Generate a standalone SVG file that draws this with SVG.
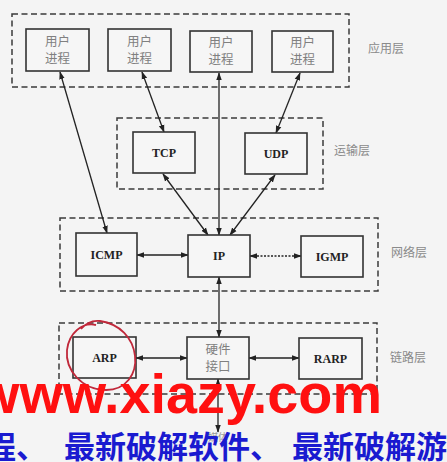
<svg xmlns="http://www.w3.org/2000/svg" width="447" height="462" viewBox="0 0 447 462">
<defs>
<marker id="ah" viewBox="0 0 10 10" refX="9" refY="5" markerWidth="8" markerHeight="8" orient="auto-start-reverse" markerUnits="userSpaceOnUse">
<path d="M0,1.5 L10,5 L0,8.5 Z" fill="#222"/>
</marker>
<style>
.layer{fill:none;stroke:#3a3a3a;stroke-width:1.5;stroke-dasharray:6 3.5}
.box{fill:#f6f6f6;stroke:#333;stroke-width:1.6}
.cj{font-family:"Noto Sans CJK SC","Noto Sans CJK TC",sans-serif;font-size:12.5px;fill:#808080;text-anchor:middle}
.en{font-family:"Liberation Serif",serif;font-size:12px;font-weight:bold;fill:#222;text-anchor:middle}
.lab{font-family:"Noto Sans CJK SC",sans-serif;font-size:12px;fill:#8a8a8a}
.c{stroke:#222;stroke-width:1.3;fill:none;marker-start:url(#ah);marker-end:url(#ah)}
</style>
</defs>
<rect width="447" height="462" fill="#f4f4f4"/>
<g id="layers">
<rect class="layer" x="12" y="14" width="337" height="73"/>
<rect class="layer" x="117" y="118" width="206" height="71"/>
<rect class="layer" x="60" y="218" width="318" height="73"/>
<rect class="layer" x="59" y="323" width="318" height="71"/>
</g>
<g id="layer-labels">
<text class="lab" x="368" y="53">应用层</text>
<text class="lab" x="334" y="155">运输层</text>
<text class="lab" x="391" y="257">网络层</text>
<text class="lab" x="390" y="362">链路层</text>
</g>
<g id="connectors">
<line class="c" x1="60" y1="72" x2="107" y2="233"/>
<line class="c" x1="142" y1="72" x2="164" y2="132"/>
<line class="c" x1="219" y1="73" x2="219" y2="235"/>
<line class="c" x1="300" y1="73" x2="276" y2="133"/>
<line class="c" x1="163" y1="174" x2="208" y2="235"/>
<line class="c" x1="275" y1="175" x2="230" y2="235"/>
<line class="c" x1="137" y1="255" x2="188" y2="255"/>
<line class="c" x1="250" y1="256" x2="301" y2="256" stroke-dasharray="2 1.5"/>
<line class="c" x1="219" y1="277" x2="219" y2="337"/>
<line class="c" x1="136" y1="358" x2="187" y2="358"/>
<line class="c" x1="249" y1="358" x2="299" y2="358"/>
<line class="c" x1="218" y1="379" x2="218" y2="432"/>
</g>
<g id="app1"><rect class="box" x="26" y="29" width="63" height="42"/><text class="cj" x="57.5" y="46">用户</text><text class="cj" x="57.5" y="63">进程</text></g>
<g id="app2"><rect class="box" x="108" y="29" width="63" height="42"/><text class="cj" x="139.5" y="46">用户</text><text class="cj" x="139.5" y="63">进程</text></g>
<g id="app3"><rect class="box" x="190" y="31" width="62" height="41"/><text class="cj" x="221" y="47">用户</text><text class="cj" x="221" y="64">进程</text></g>
<g id="app4"><rect class="box" x="272" y="31" width="61" height="41"/><text class="cj" x="302.5" y="47">用户</text><text class="cj" x="302.5" y="64">进程</text></g>
<g id="tcp"><rect class="box" x="133" y="132" width="62" height="41"/><text class="en" x="164" y="157">TCP</text></g>
<g id="udp"><rect class="box" x="245" y="133" width="62" height="41"/><text class="en" x="276" y="158">UDP</text></g>
<g id="icmp"><rect class="box" x="76" y="233" width="61" height="43"/><text class="en" x="106.5" y="259">ICMP</text></g>
<g id="ip"><rect class="box" x="188" y="235" width="62" height="42"/><text class="en" x="219" y="260">IP</text></g>
<g id="igmp"><rect class="box" x="301" y="236" width="62" height="41"/><text class="en" x="332" y="261">IGMP</text></g>
<g id="arp"><rect class="box" x="73" y="337" width="63" height="41"/><text class="en" x="104.5" y="362">ARP</text></g>
<g id="hw"><rect class="box" x="187" y="337" width="62" height="42"/><text class="cj" x="218" y="354">硬件</text><text class="cj" x="218" y="371">接口</text></g>
<g id="rarp"><rect class="box" x="299" y="338" width="63" height="41"/><text class="en" x="330.5" y="363">RARP</text></g>
<text x="218" y="441" font-family="Noto Sans CJK SC,sans-serif" font-size="10" fill="#999" text-anchor="middle">媒体</text>
<path d="M96,325 C82,322 69,333 67,350 C65,370 82,390 106,390 C126,390 137,374 135,356 C133,338 120,324 100,321 C92,320 86,323 81,329" fill="none" stroke="#c0283a" stroke-width="1.8"/>
<text x="-24" y="413" font-family="Liberation Sans,Arial,sans-serif" font-size="55" font-weight="bold" fill="#ff1010" textLength="406" lengthAdjust="spacingAndGlyphs">www.xiazy.com</text>
<text y="458" font-family="Noto Sans CJK SC,sans-serif" font-size="31" font-weight="bold" fill="#1a1ad0"><tspan x="-15">程、</tspan><tspan x="64">最新破解软件、</tspan><tspan x="292">最新破解游</tspan></text>
</svg>
